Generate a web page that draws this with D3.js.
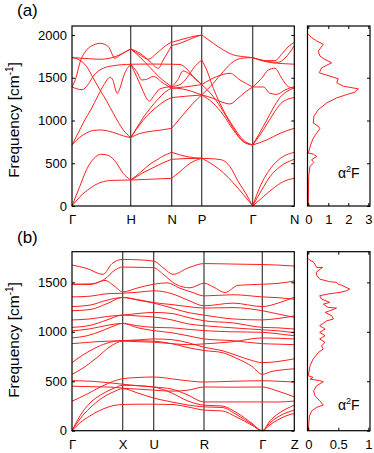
<!DOCTYPE html>
<meta charset='utf-8'>
<title>Phonon dispersion and a2F</title>
<style>
body {
  margin: 0;
  background-color: #fff;
}
svg text {
  font-family: "Liberation Sans", Arial, sans-serif;
}
</style>
<svg width="374" height="453"></svg>
<script src="https://d3js.org/d3.v7.min.js"></script>
<script>

// ---- panel (a): bcc path, k in path units ----
var kLabelsA = ["Γ", "H", "N", "P", "Γ", "N"];
var kTicksA = [0, 58.7, 99.7, 129.7, 180.7, 222.3];
var fTicksA = [0, 500, 1000, 1500, 2000];
var dosTicksA = [0, 1, 2, 3];

var bandsA = [
  // Γ-H
  [[0,0],[8,109],[18,207],[28,273],[41,300],[58.7,304]],
  [[0,0],[7.3,214],[14.7,429],[22,558],[29.3,605],[36.7,590],[44,510],[51.3,380],[58.7,304]],
  [[0,714],[7.3,800],[14.7,855],[22,885],[29.3,889],[36.7,875],[44,850],[51.3,820],[58.7,800]],
  [[0,714],[6,850],[12,990],[19,1130],[26,1290],[32,1420],[38,1505],[41,1470],[43,1380],[45.3,1318],[48,1380],[52,1530],[58.7,1658]],
  [[0,1735],[7,1710],[14.7,1630],[21,1500],[28,1357],[35,1220],[41.3,1084],[51.3,889],[58.7,800]],
  [[0,1735],[14,1725],[28,1716],[40,1735],[48,1770],[58.7,1837]],
  [[0,1392],[4,1500],[8,1680],[14.7,1825],[22,1885],[28,1903],[36.3,1864],[43,1728],[48,1765],[58.7,1837]],
  [[0,1392],[5,1370],[10,1360],[16,1420],[22,1530],[28,1591],[41,1640],[58.7,1658]],
  // H-N
  [[58.7,304],[72,310],[85,316],[99.7,324]],
  [[58.7,304],[65,345],[72,395],[78,430],[85,470],[92,510],[99.7,546]],
  [[58.7,304],[65,360],[72,430],[78,490],[85,540],[92,590],[99.7,628]],
  [[58.7,800],[66,840],[72,860],[80,875],[90,890],[99.7,909]],
  [[58.7,800],[64,890],[71,1000],[78,1090],[86,1170],[93,1230],[99.7,1268]],
  [[58.7,800],[64,900],[71,1030],[78,1140],[86,1250],[93,1330],[99.7,1380]],
  [[58.7,1658],[80,1660],[99.7,1658]],
  [[58.7,1658],[64.7,1513],[71.3,1338],[75,1250],[77.3,1225],[81.3,1279],[88,1370],[99.7,1396]],
  [[58.7,1658],[64.7,1572],[69.7,1474],[74.7,1482],[81.3,1515],[91.3,1435],[99.7,1377]],
  [[58.7,1837],[68,1767],[76.3,1716],[84.7,1786],[94.7,1884],[99.7,1915]],
  [[58.7,1837],[68,1786],[78,1689],[86.3,1611],[91.3,1708],[99.7,1876]],
  [[58.7,1837],[68,1740],[78,1620],[88,1500],[99.7,1396]],
  // N-P
  [[99.7,1915],[108,1942],[115,1965],[122,1985],[129.7,2000]],
  [[99.7,1876],[108,1903],[115,1935],[122,1970],[129.7,2000]],
  [[99.7,1658],[108,1655],[115,1600],[122,1500],[129.7,1420]],
  [[99.7,1396],[108,1420],[115,1500],[122,1620],[129.7,1708]],
  [[99.7,1390],[106,1480],[111,1580],[118,1540],[129.7,1420]],
  [[99.7,1380],[110,1370],[120,1340],[129.7,1298]],
  [[99.7,1377],[115,1395],[129.7,1420]],
  [[99.7,1268],[115,1285],[129.7,1298]],
  [[99.7,909],[111,1065],[121,1201],[129.7,1298]],
  [[99.7,628],[115,577],[129.7,558]],
  [[99.7,546],[115,555],[129.7,558]],
  [[99.7,324],[108,402],[118,499],[129.7,558]],
  // P-Γ
  [[129.7,558],[138,554],[149.7,540],[158,460],[166.3,285],[174.7,129],[180.7,0]],
  [[129.7,558],[141.3,480],[151.3,390],[161.3,270],[171.3,135],[180.7,0]],
  [[129.7,1708],[134.7,1591],[141.3,1377],[151.3,1123],[161.3,928],[171.3,772],[180.7,714]],
  [[129.7,1420],[141.3,1279],[151.3,1104],[161.3,909],[171.3,753],[180.7,714]],
  [[129.7,1298],[141.3,1201],[151.3,1065],[161.3,889],[171.3,753],[180.7,714]],
  [[129.7,1420],[144.7,1513],[158,1552],[168,1474],[180.7,1392]],
  [[129.7,1298],[141,1260],[150,1215],[158,1193],[166,1260],[173,1330],[180.7,1392]],
  [[129.7,1298],[141.3,1435],[151.3,1572],[161.3,1689],[171.3,1730],[180.7,1735]],
  [[129.7,2000],[141.3,1903],[151.3,1825],[161.3,1767],[171.3,1747],[180.7,1735]],
  // Γ-N
  [[180.7,0],[191.3,109],[201.3,207],[211.3,285],[222.3,324]],
  [[180.7,0],[189.7,187],[198,343],[208,460],[222.3,546]],
  [[180.7,0],[188,226],[196.3,402],[206.3,538],[222.3,628]],
  [[180.7,714],[194.7,772],[208,850],[222.3,909]],
  [[180.7,714],[188,830],[195,960],[202,1090],[209,1200],[216,1250],[222.3,1268]],
  [[180.7,714],[187,840],[194,990],[201,1140],[208,1270],[215,1340],[222.3,1380]],
  [[180.7,1392],[189.7,1494],[196.3,1591],[203,1611],[209.7,1494],[216.3,1396],[222.3,1377]],
  [[180.7,1392],[191.3,1392],[198,1318],[204.7,1306],[213,1357],[222.3,1396]],
  [[180.7,1735],[190,1700],[200,1675],[211,1665],[222.3,1658]],
  [[180.7,1735],[194.7,1700],[203,1700],[210,1780],[216,1860],[222.3,1915]],
  [[180.7,1735],[196,1690],[206,1680],[213,1730],[218,1800],[222.3,1876]]
];

// a2F of panel (a): [frequency, value]
var a2fA = [
  [2008,0],[1969,0.17],[1930,0.42],[1891,0.75],[1812,0.5],[1754,0.58],[1714,0.83],
  [1675,1.17],[1617,0.67],[1558,0.55],[1519,1.08],[1488,1.5],[1441,1.42],[1401,1.75],
  [1370,2.5],[1331,2.33],[1303,1.92],[1264,1.42],[1205,0.92],[1127,0.5],[1049,0.28],
  [970,0.25],[932,0.5],[904,0.58],[853,0.42],[795,0.25],[716,0.12],[619,0],[607,0.25],
  [580,0.42],[541,0.17],[509,0.28],[462,0.08],[345,0.02],[30,0],[0,0]
];

// ---- panel (b) ----
var kLabelsB = ["Γ", "X", "U", "R", "Γ", "Z"];
var kTicksB = [0, 50.7, 81.7, 132, 190.3, 222.3];
var fTicksB = [0, 500, 1000, 1500];
var dosTicksB = [0, 0.5, 1];

var bandsB = [
  [[0,1675],[15,1640],[31,1581],[40,1690],[50.7,1732],[66,1728],[81.7,1715],[92,1640],[101,1581],[116,1645],[132,1690],[161,1685],[190.3,1680],[206,1675],[222.3,1665]],
  [[0,1481],[20,1485],[33,1535],[43,1625],[50.7,1655],[66,1652],[81.7,1648],[92,1575],[104,1480],[118,1445],[132,1491],[142,1450],[153,1397],[166,1470],[190.3,1481],[206,1490],[222.3,1514]],
  [[0,1481],[18,1478],[33,1520],[42,1465],[50.7,1404],[66,1445],[81.7,1481],[95,1495],[108,1440],[120,1400],[132,1363],[161,1375],[190.3,1353],[206,1345],[222.3,1330]],
  [[0,1353],[18,1360],[35,1385],[50.7,1390],[66,1400],[81.7,1415],[100,1385],[116,1320],[132,1263],[161,1290],[190.3,1255],[206,1290],[222.3,1350]],
  [[0,1255],[18,1270],[35,1320],[50.7,1347],[66,1325],[81.7,1296],[100,1275],[116,1255],[132,1240],[161,1245],[190.3,1213],[206,1180],[222.3,1146]],
  [[0,1213],[18,1225],[35,1285],[50.7,1347],[66,1320],[81.7,1290],[100,1240],[116,1195],[132,1169],[161,1130],[190.3,1120],[206,1135],[222.3,1160]],
  [[0,1120],[18,1130],[35,1155],[50.7,1169],[66,1185],[81.7,1196],[100,1185],[116,1145],[132,1112],[161,1090],[190.3,1045],[206,1040],[222.3,1028]],
  [[0,1045],[18,1065],[35,1120],[50.7,1169],[66,1160],[81.7,1150],[100,1120],[116,1080],[132,1062],[161,1040],[190.3,1020],[206,1010],[222.3,990]],
  [[0,1010],[18,1030],[35,1065],[50.7,1085],[66,1060],[81.7,1045],[100,1040],[116,1025],[132,1012],[161,1000],[190.3,995],[206,980],[222.3,960]],
  [[0,938],[15,960],[30,1010],[42,1060],[50.7,1085],[66,1040],[81.7,1012],[100,990],[116,960],[132,928],[161,910],[190.3,880],[206,875],[222.3,870]],
  [[0,880],[25,900],[50.7,911],[66,918],[81.7,928],[100,920],[116,890],[132,844],[150,810],[165,760],[180,710],[190.3,688],[206,700],[222.3,727]],
  [[0,688],[10,760],[22,830],[35,885],[50.7,911],[66,910],[81.7,905],[100,880],[116,840],[132,811],[150,790],[165,730],[180,650],[190.3,570],[200,600],[210,615],[222.3,626]],
  [[0,570],[12,640],[25,740],[38,850],[50.7,905],[66,900],[81.7,895],[100,880],[116,870],[132,878],[161,900],[190.3,938],[206,935],[222.3,928]],
  [[0,505],[20,500],[50.7,470],[66,455],[81.7,442],[100,420],[116,360],[132,291],[161,291],[190.3,291],[206,290],[222.3,300]],
  [[0,450],[20,445],[40,440],[50.7,430],[66,420],[81.7,410],[100,400],[116,410],[132,442],[161,440],[190.3,442],[206,400],[222.3,342]],
  [[0,298],[15,370],[30,450],[50.7,526],[66,538],[81.7,543],[107,515],[132,492],[161,500],[190.3,505],[206,500],[222.3,492]],
  [[0,0],[8,150],[18,280],[30,370],[42,430],[50.7,459],[66,455],[81.7,442],[100,380],[116,300],[132,258],[150,250],[165,180],[180,75],[190.3,0],[198,100],[206,170],[214,220],[222.3,258]],
  [[0,0],[8,120],[18,230],[30,330],[42,395],[50.7,425],[66,380],[81.7,330],[100,290],[116,260],[132,241],[150,235],[165,160],[180,65],[190.3,0],[198,80],[206,140],[214,180],[222.3,208]],
  [[0,0],[8,80],[18,150],[30,215],[42,255],[50.7,265],[66,268],[81.7,268],[100,265],[116,240],[132,208],[150,200],[165,135],[180,55],[190.3,0],[198,60],[206,110],[214,150],[222.3,174]]
];

var a2fB = [
  [1742,0],[1720,0.03],[1710,0.08],[1685,0.11],[1651,0.14],[1651,0.24],[1635,0.2],[1601,0.13],
  [1574,0.14],[1533,0.19],[1506,0.36],[1500,0.47],[1480,0.5],[1470,0.56],[1432,0.69],[1415,0.64],
  [1399,0.53],[1382,0.33],[1365,0.19],[1331,0.22],[1297,0.36],[1280,0.25],[1247,0.33],[1240,0.47],
  [1213,0.36],[1196,0.28],[1163,0.39],[1129,0.42],[1112,0.31],[1062,0.19],[1028,0.28],[994,0.19],
  [961,0.28],[927,0.19],[893,0.28],[859,0.22],[826,0.25],[792,0.17],[725,0.08],[657,0.03],
  [556,0],[539,0.08],[522,0.03],[506,0.19],[495,0.25],[455,0.14],[404,0.09],[354,0.11],
  [303,0.19],[259,0.25],[236,0.14],[202,0.06],[152,0.02],[0,0]
];

var svg = d3.select("svg");
var red = "#ff1f1f";

drawPanel({
  tag: "(a)", tagY: 16, top: 26, bottom: 206, fMax: 2105,
  kTicks: kTicksA, kLabels: kLabelsA, fTicks: fTicksA, bands: bandsA,
  dos: a2fA, dosDomain: [-0.04, 3.085], dosTicks: dosTicksA, dosFormat: d3.format("d"),
  ylabelY: 120, a2fY: 178
});

drawPanel({
  tag: "(b)", tagY: 243, top: 251.7, bottom: 430.7, fMax: 1810,
  kTicks: kTicksB, kLabels: kLabelsB, fTicks: fTicksB, bands: bandsB,
  dos: a2fB, dosDomain: [-0.013, 1.028], dosTicks: dosTicksB, dosFormat: function(d) { return d === 0.5 ? "0.5" : d3.format("d")(d); },
  ylabelY: 340, a2fY: 410
});

function styleAxis(g) {
  g.select(".domain").remove();
  g.attr("font-family", null).attr("font-size", 13);
  g.selectAll(".tick line").attr("stroke", "#000");
}

function drawPanel(p) {
  var x0 = 72, x1 = 294.3, d0 = 307.5, d1 = 370;

  var x = d3.scaleLinear().domain([0, 222.3]).range([x0, x1]);
  var y = d3.scaleLinear().domain([0, p.fMax]).range([p.bottom, p.top]);
  var xd = d3.scaleLinear().domain(p.dosDomain).range([d0, d1]);

  var g = svg.append("g");

  // high-symmetry lines
  g.selectAll("line.sym")
      .data(p.kTicks.slice(1, -1))
    .enter().append("line")
      .attr("x1", function(d) { return x(d); })
      .attr("x2", function(d) { return x(d); })
      .attr("y1", p.top)
      .attr("y2", p.bottom)
      .attr("stroke", "#3a3a3a")
      .attr("stroke-width", 1.2);

  var band = d3.line()
      .x(function(d) { return x(d[0]); })
      .y(function(d) { return y(d[1]); })
      .curve(d3.curveMonotoneX);

  g.selectAll("path.band")
      .data(p.bands)
    .enter().append("path")
      .attr("class", "band")
      .attr("d", band)
      .attr("fill", "none")
      .attr("stroke", red)
      .attr("stroke-width", 1);

  // a2F curve
  var dosLine = d3.line()
      .x(function(d) { return xd(d[1]); })
      .y(function(d) { return y(d[0]); });

  g.append("path")
      .attr("d", dosLine(p.dos))
      .attr("fill", "none")
      .attr("stroke", red)
      .attr("stroke-width", 1);

  // axes
  g.append("g")
      .attr("transform", "translate(" + x0 + ",0)")
      .call(d3.axisLeft(y).tickValues(p.fTicks).tickSize(-3).tickPadding(5).tickFormat(d3.format("d")))
      .call(styleAxis);

  g.append("g")
      .attr("transform", "translate(" + x1 + ",0)")
      .call(d3.axisRight(y).tickValues(p.fTicks).tickSize(-3).tickFormat(""))
      .call(styleAxis);

  g.append("g")
      .attr("transform", "translate(" + d1 + ",0)")
      .call(d3.axisRight(y).tickValues(p.fTicks).tickSize(-3).tickFormat(""))
      .call(styleAxis);

  g.append("g")
      .attr("transform", "translate(0," + p.bottom + ")")
      .call(d3.axisBottom(x).tickValues(p.kTicks).tickSize(0).tickPadding(9)
        .tickFormat(function(d, i) { return p.kLabels[i]; }))
      .call(styleAxis);

  g.append("g")
      .attr("transform", "translate(0," + p.bottom + ")")
      .call(d3.axisBottom(xd).tickValues(p.dosTicks).tickSize(-3).tickPadding(9).tickFormat(p.dosFormat))
      .call(styleAxis);

  g.append("g")
      .attr("transform", "translate(0," + p.top + ")")
      .call(d3.axisTop(xd).tickValues(p.dosTicks).tickSize(-3).tickFormat(""))
      .call(styleAxis);

  // frames
  g.append("rect")
      .attr("x", x0).attr("y", p.top)
      .attr("width", x1 - x0).attr("height", p.bottom - p.top)
      .attr("fill", "none").attr("stroke", "#000").attr("stroke-width", 1.2);

  g.append("rect")
      .attr("x", d0).attr("y", p.top)
      .attr("width", d1 - d0).attr("height", p.bottom - p.top)
      .attr("fill", "none").attr("stroke", "#000").attr("stroke-width", 1.2);

  // labels
  g.append("text")
      .attr("x", 17).attr("y", p.tagY)
      .attr("font-size", 17)
      .text(p.tag);

  var yl = g.append("text")
      .attr("transform", "translate(19," + p.ylabelY + ") rotate(-90)")
      .attr("text-anchor", "middle")
      .attr("font-size", 15.5);
  yl.append("tspan").text("Frequency [cm");
  yl.append("tspan").attr("font-size", 10).attr("dy", -6).text("-1");
  yl.append("tspan").attr("dy", 6).text("]");

  var al = g.append("text")
      .attr("x", 338).attr("y", p.a2fY)
      .attr("font-size", 14);
  al.append("tspan").text("α");
  al.append("tspan").attr("font-size", 9).attr("dy", -6).text("2");
  al.append("tspan").attr("dy", 6).text("F");
}

</script>
